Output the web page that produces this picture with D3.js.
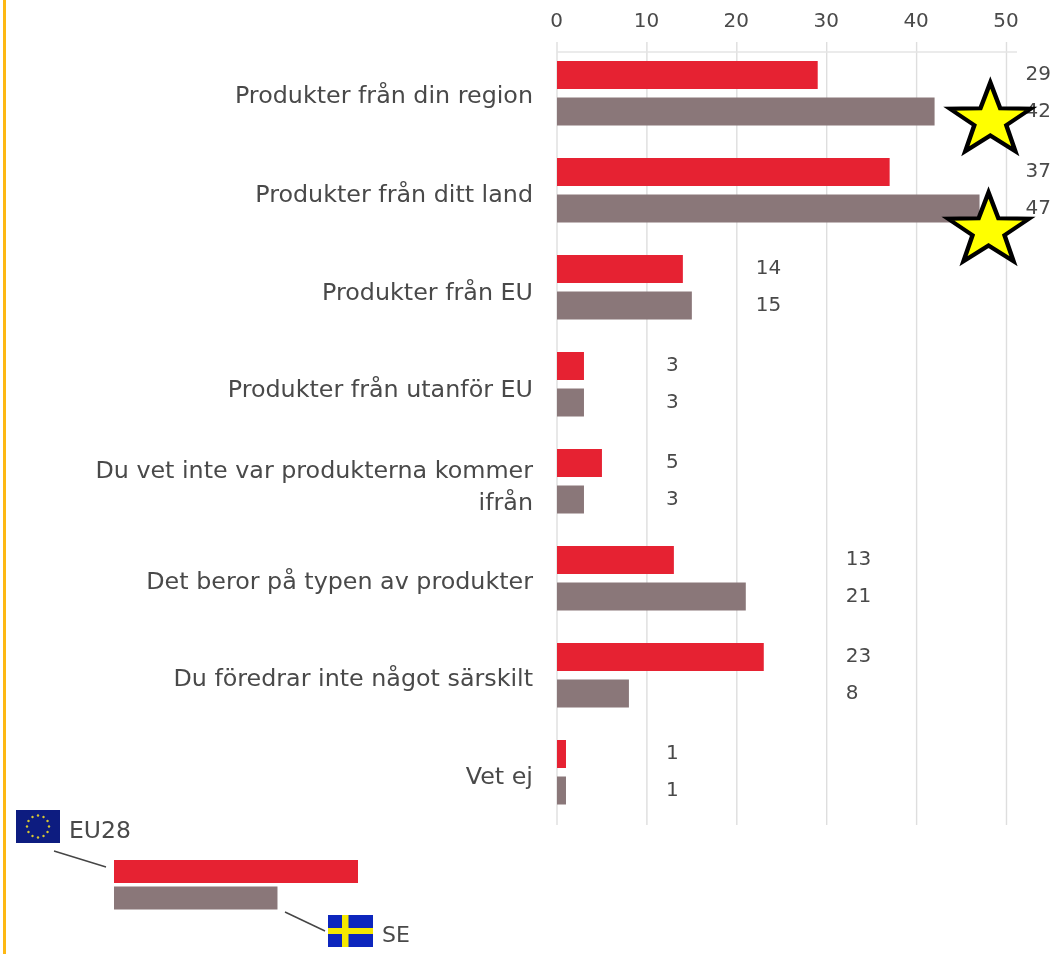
<!DOCTYPE html>
<html><head><meta charset="utf-8">
<script src="https://cdn.jsdelivr.net/npm/d3@7/dist/d3.min.js"></script>
<style>html,body{margin:0;padding:0;background:#fff}svg{display:block}text{font-family:"DejaVu Sans",sans-serif;fill:#4a4a4a}</style>
</head><body><svg id="c" width="1064" height="954"></svg>
<script>
const categories=[["Produkter från din region"],["Produkter från ditt land"],["Produkter från EU"],["Produkter från utanför EU"],["Du vet inte var produkterna kommer","ifrån"],["Det beror på typen av produkter"],["Du föredrar inte något särskilt"],["Vet ej"]];
const eu28=[29,37,14,3,5,13,23,1];
const se=[42,47,15,3,3,21,8,1];
const labelBand=[50,50,20,10,10,30,30,10];
const labelBaseline=[52,54,55,55,39,53,53,54];
const xTicks=[0,10,20,30,40,50];
const starValues=[48.2,48];
const starRowOffsets=[70,83];
const RED="#e62233",GREY="#8a7779";
const svg=d3.select("#c");
const defs=svg.append("defs");
defs.append("filter").attr("id","soft").append("feGaussianBlur").attr("stdDeviation",0.55);
const x=d3.scaleLinear().domain([0,50]).range([557,1006.5]);
const y=d3.scaleBand().domain(d3.range(8)).range([50.5,826.5]);
const inner=d3.scaleBand().domain([0,1]).range([10.5,75]).paddingInner(0.233);
svg.append("rect").attr("x",3).attr("y",0).attr("width",3).attr("height",954).attr("fill","#fdb813");
const g=svg.append("g").attr("filter","url(#soft)");
const axis=g.append("g").attr("transform","translate(0,52)").call(d3.axisTop(x).tickValues(xTicks).tickSize(10));
axis.select(".domain").remove();
axis.selectAll("line").remove();
axis.selectAll("text").attr("font-size",20).attr("dy",0).attr("y",-25).attr("dx",-1);
g.selectAll("line.grid").data(xTicks).join("line").attr("class","grid")
 .attr("x1",d=>x(d)).attr("x2",d=>x(d)).attr("y1",42).attr("y2",825).attr("stroke","#dedede").attr("stroke-width",1.4);
g.append("line").attr("x1",x(0)).attr("x2",1017).attr("y1",52).attr("y2",52).attr("stroke","#e4e4e4").attr("stroke-width",1.4);
const row=g.selectAll("g.row").data(categories).join("g").attr("class","row").attr("transform",(d,i)=>`translate(0,${y(i)})`);
row.append("rect").attr("x",x(0)).attr("y",inner(0)).attr("height",inner.bandwidth()).attr("width",(d,i)=>x(eu28[i])-x(0)).attr("fill",RED);
row.append("rect").attr("x",x(0)).attr("y",inner(1)).attr("height",inner.bandwidth()).attr("width",(d,i)=>x(se[i])-x(0)).attr("fill",GREY);
row.append("text").attr("x",(d,i)=>x(labelBand[i])+19).attr("y",29).attr("font-size",20).text((d,i)=>eu28[i]);
row.append("text").attr("x",(d,i)=>x(labelBand[i])+19).attr("y",66).attr("font-size",20).text((d,i)=>se[i]);
row.each(function(lines,i){
  const t=d3.select(this).append("text").attr("text-anchor","end").attr("font-size",23.8);
  lines.forEach((l,k)=>t.append("tspan").attr("x",533).attr("y",labelBaseline[i]+k*32).text(l));
});
// legend
const lx=d3.scaleLinear().domain([0,100]).range([114,358]);
const legendValues=[100,67];
g.selectAll("rect.leg").data(legendValues).join("rect").attr("class","leg").attr("x",lx(0)).attr("y",(d,i)=>860+i*26.5).attr("height",23).attr("width",d=>lx(d)-lx(0)).attr("fill",(d,i)=>i?GREY:RED);
g.append("line").attr("x1",54).attr("y1",851).attr("x2",106).attr("y2",867).attr("stroke","#444").attr("stroke-width",1.4);
g.append("line").attr("x1",285).attr("y1",912).attr("x2",325).attr("y2",931).attr("stroke","#444").attr("stroke-width",1.4);
g.append("rect").attr("x",16).attr("y",810).attr("width",44).attr("height",33).attr("fill","#0a1a80");
const euStars=d3.range(12).map(i=>i*Math.PI/6);
g.selectAll("circle.eu").data(euStars).join("circle").attr("class","eu").attr("cx",d=>38+11*Math.sin(d)).attr("cy",d=>826.5-11*Math.cos(d)).attr("r",1.2).attr("fill","#d9c832");
g.append("text").attr("x",69).attr("y",838).attr("font-size",23.5).text("EU28");
g.append("rect").attr("x",328).attr("y",915).attr("width",45).attr("height",32).attr("fill","#0a25bd");
g.append("rect").attr("x",342).attr("y",915).attr("width",6.5).attr("height",32).attr("fill","#f5e800");
g.append("rect").attr("x",328).attr("y",928).attr("width",45).attr("height",6).attr("fill","#f5e800");
g.append("text").attr("x",382).attr("y",942).attr("font-size",22).text("SE");
// annotation stars
const star=d3.range(10).map(i=>[i*Math.PI/5,i%2?15:38]);
const rl=d3.lineRadial().curve(d3.curveLinearClosed);
svg.selectAll("path.star").data(starValues).join("path").attr("class","star")
 .attr("transform",(d,i)=>`translate(${x(d)},${y(i)+starRowOffsets[i]}) scale(1.12,1)`)
 .attr("d",rl(star)).attr("fill","#ffff00").attr("stroke","#000").attr("stroke-width",4).attr("stroke-linejoin","miter");
</script></body></html>
